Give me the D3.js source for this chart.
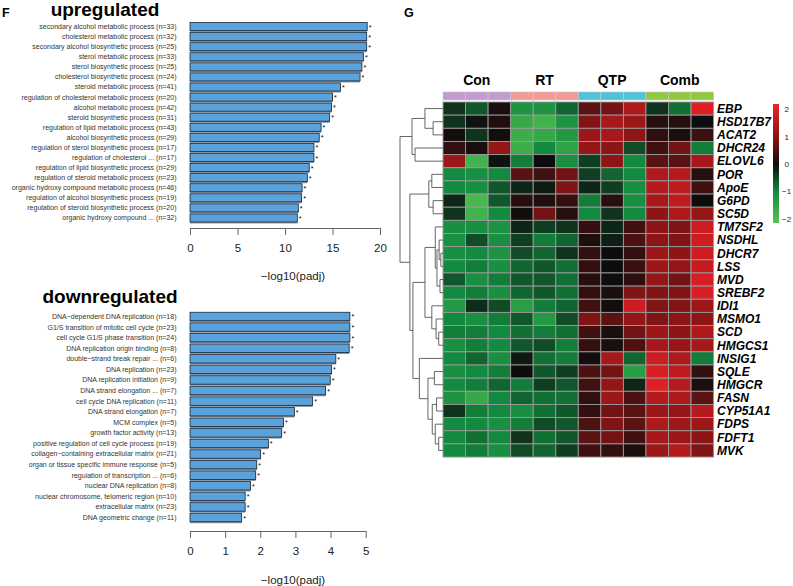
<!DOCTYPE html>
<html>
<head>
<meta charset="utf-8">
<script src="https://cdn.jsdelivr.net/npm/d3@7"></script>
<style>
  html, body { margin: 0; padding: 0; background: #fff; }
  svg { display: block; font-family: "Liberation Sans", Arial, Helvetica, sans-serif; }
</style>
</head>
<body>
<svg id="fig" width="793" height="586"></svg>
<script>
'use strict';

// GO enrichment, upregulated
const upTerms = [
  'secondary alcohol metabolic process (n=33)',
  'cholesterol metabolic process (n=32)',
  'secondary alcohol biosynthetic process (n=25)',
  'sterol metabolic process (n=33)',
  'sterol biosynthetic process (n=25)',
  'cholesterol biosynthetic process (n=24)',
  'steroid metabolic process (n=41)',
  'regulation of cholesterol metabolic process (n=20)',
  'alcohol metabolic process (n=42)',
  'steroid biosynthetic process (n=31)',
  'regulation of lipid metabolic process (n=43)',
  'alcohol biosynthetic process (n=29)',
  'regulation of sterol biosynthetic process (n=17)',
  'regulation of cholesterol ... (n=17)',
  'regulation of lipid biosynthetic process (n=29)',
  'regulation of steroid metabolic process (n=23)',
  'organic hydroxy compound metabolic process (n=46)',
  'regulation of alcohol biosynthetic process (n=19)',
  'regulation of steroid biosynthetic process (n=20)',
  'organic hydroxy compound ... (n=32)'
];
const upValues = [18.65, 18.6, 18.6, 18.25, 18.1, 17.9, 15.85, 15.0, 14.9, 14.7,
  13.8, 13.6, 13.05, 13.05, 12.55, 12.35, 11.8, 11.75, 11.4, 11.3];
const upTicks = [0, 5, 10, 15, 20];

// GO enrichment, downregulated
const downTerms = [
  'DNA\u2212dependent DNA replication (n=18)',
  'G1/S transition of mitotic cell cycle (n=23)',
  'cell cycle G1/S phase transition (n=24)',
  'DNA replication origin binding (n=8)',
  'double\u2212strand break repair ... (n=6)',
  'DNA replication (n=23)',
  'DNA replication initiation (n=9)',
  'DNA strand elongation ... (n=7)',
  'cell cycle DNA replication (n=11)',
  'DNA strand elongation (n=7)',
  'MCM complex (n=5)',
  'growth factor activity (n=13)',
  'positive regulation of cell cycle process (n=19)',
  'collagen\u2212containing extracellular matrix (n=21)',
  'organ or tissue specific immune response (n=5)',
  'regulation of transcription ... (n=6)',
  'nuclear DNA replication (n=8)',
  'nuclear chromosome, telomeric region (n=10)',
  'extracellular matrix (n=23)',
  'DNA geometric change (n=11)'
];
const downValues = [4.55, 4.55, 4.55, 4.53, 4.15, 4.03, 3.99, 3.86, 3.49, 2.97,
  2.66, 2.61, 2.23, 2.01, 1.9, 1.87, 1.72, 1.57, 1.57, 1.47];
const downTicks = [0, 1, 2, 3, 4, 5];

// heatmap
const groups = ['Con', 'RT', 'QTP', 'Comb'];
const groupColors = ['#c49bd1', '#f29a96', '#4fc3d7', '#91c83f'];
const samples = ['Con1', 'Con2', 'Con3', 'RT1', 'RT2', 'RT3', 'QTP1', 'QTP2', 'QTP3', 'Comb1', 'Comb2', 'Comb3'];
const genes = ['EBP', 'HSD17B7', 'ACAT2', 'DHCR24', 'ELOVL6', 'POR', 'ApoE', 'G6PD', 'SC5D',
  'TM7SF2', 'NSDHL', 'DHCR7', 'LSS', 'MVD', 'SREBF2', 'IDI1', 'MSMO1', 'SCD', 'HMGCS1',
  'INSIG1', 'SQLE', 'HMGCR', 'FASN', 'CYP51A1', 'FDPS', 'FDFT1', 'MVK'];
const heatValues = [
  [-0.3, -0.6, 0.1, -1.2, -1.2, -0.7, 0.6, 0.8, 1.4, -0.3, -0.8, 2.0],
  [-0.3, -0.05, 0.15, -1.6, -1.8, -1.2, 0.9, 1.3, 1.2, 0.2, 0.2, 0.0],
  [0.05, -0.3, 0.05, -1.7, -1.6, -1.3, 1.2, 1.3, 1.0, 0.25, 0.1, 0.35],
  [0.3, 0.1, 1.1, -1.7, -1.0, -1.5, 1.1, 1.0, -0.5, 0.4, 0.8, -0.9],
  [1.2, -1.8, -0.05, -0.9, 0.0, -1.1, -0.4, 1.0, -1.0, 0.6, 0.6, 1.3],
  [-1.0, -1.1, -1.0, 0.6, 0.4, 0.8, -0.4, -0.7, -1.0, 1.4, 1.5, 0.2],
  [-1.0, -1.1, -0.6, -0.2, -0.1, 0.9, -0.2, -0.4, -1.1, 1.5, 1.6, 0.4],
  [-0.2, -1.9, -0.6, 0.2, 0.15, 0.3, -0.9, 0.2, -1.1, 1.3, 1.6, 0.0],
  [-0.3, -1.8, -1.0, 0.05, 0.8, 0.2, -1.0, -0.3, -1.0, 1.0, 1.4, 1.1],
  [-1.1, -1.1, -1.2, -0.2, -0.4, -0.3, 0.3, -0.2, 0.4, 1.0, 0.9, 1.8],
  [-1.1, -0.5, -1.1, -0.4, -0.9, -0.7, 0.15, -0.15, 0.5, 1.0, 0.9, 1.8],
  [-1.1, -1.0, -1.2, -0.5, -0.7, -0.3, 0.3, 0.0, 0.3, 1.2, 1.0, 1.8],
  [-1.0, -0.9, -1.1, -0.7, -0.6, -0.8, 0.3, 0.0, 0.35, 1.2, 1.1, 1.7],
  [-0.6, -1.1, -0.9, -0.6, -0.6, -0.8, 0.2, 0.0, 0.25, 1.1, 0.8, 1.9],
  [-1.0, -0.9, -1.1, -0.7, -0.6, -0.8, 0.3, 0.1, 0.9, 0.9, 0.9, 1.9],
  [-1.3, -0.25, -0.5, -1.4, -0.9, -0.7, 0.4, 0.05, 1.8, 0.9, 0.9, 1.2],
  [-1.0, -1.1, -0.9, -0.6, -1.3, -0.5, 0.9, 0.6, 1.1, 0.9, 1.0, 1.0],
  [-0.9, -0.9, -1.0, -0.8, -0.9, -0.8, 0.4, 0.1, 0.8, 1.2, 1.0, 1.4],
  [-1.1, -0.9, -1.0, -0.6, -0.5, -0.9, 0.3, 0.1, 0.5, 1.3, 1.1, 1.3],
  [-1.0, -0.7, -1.1, -0.1, -0.8, -0.9, 0.05, 1.3, -0.7, 1.8, 1.4, -0.9],
  [-1.1, -1.0, -0.9, 0.0, -0.6, -0.4, 0.5, 0.8, -1.4, 1.9, 1.6, 0.3],
  [-1.0, -0.9, -0.7, -0.9, -0.4, -0.6, 0.4, 1.1, -0.2, 2.0, 1.5, 0.1],
  [-1.2, -1.6, -1.0, -0.7, -0.8, -0.8, 0.3, 1.2, 0.5, 1.5, 1.4, 0.6],
  [-0.3, -0.9, -1.0, -1.1, -0.8, -0.6, 0.3, 0.8, 0.6, 1.2, 1.1, 1.5],
  [-1.0, -1.0, -1.1, -0.9, -0.5, -0.6, 0.5, 0.9, 0.6, 1.4, 1.2, 1.2],
  [-1.0, -0.8, -1.0, -0.3, -0.8, -0.6, 0.6, 0.8, 0.4, 1.3, 1.2, 1.0],
  [-1.0, -0.9, -1.1, -0.5, -0.7, -0.4, 0.4, 0.3, 0.1, 1.2, 1.5, 0.9]
];
const legendTicks = [2, 1, 0, -1, -2];

// row dendrogram: [height, left, right], leaves are gene indices
const rowTree = [10,
  [7.2, [4.2, 0, [2.3, 1, 2]], [6.5, 3, 4]],
  [7.7,
    [3.3, [2.6, 5, 6], [2.3, 7, 8]],
    [7.0,
      [4.2,
        [1.8, 9, [1.4, [0.9, 10, [0.5, 11, 12]], [0.7, 13, 14]]],
        [2.6, 15, [1.6, 16, [1.0, 17, 18]]]],
      [5.5, 19, [3.5, [2.0, 20, 21], [2.5, [1.5, 22, 23], [1.8, 24, [1.0, 25, 26]]]]]]]];

const svg = d3.select('#fig');
svg.append('rect').attr('width', 793).attr('height', 586).attr('fill', '#fff');

// panel letters
svg.append('text').attr('x', 2).attr('y', 17).attr('font-size', 12.5).attr('font-weight', 'bold').text('F');
svg.append('text').attr('x', 404).attr('y', 17).attr('font-size', 12.5).attr('font-weight', 'bold').text('G');

// horizontal bar panel
function barPanel(cfg) {
  const x = d3.scaleLinear().domain([0, cfg.ticks[cfg.ticks.length - 1]]).range([190, cfg.xEnd]);
  const y = d3.scaleBand().domain(cfg.terms).range(cfg.yRange).paddingInner(0.2).paddingOuter(0.1);
  const g = svg.append('g');

  g.append('text')
    .attr('x', cfg.titleX).attr('y', cfg.titleY)
    .attr('text-anchor', 'middle')
    .attr('font-size', 19).attr('font-weight', 'bold')
    .text(cfg.title);

  g.selectAll('.lab').data(cfg.terms).enter().append('text')
    .attr('x', 176.5)
    .attr('y', d => y(d) + y.bandwidth() / 2)
    .attr('dy', '0.35em')
    .attr('text-anchor', 'end')
    .attr('font-size', 7)
    .attr('fill', '#333')
    .text(d => d);

  // grey shadow under each bar
  g.selectAll('.shadow').data(cfg.values).enter().append('rect')
    .attr('x', x(0))
    .attr('y', (d, i) => y(cfg.terms[i]) + 1.5)
    .attr('width', d => x(d) - x(0))
    .attr('height', y.bandwidth())
    .attr('fill', '#8a8f96');

  g.selectAll('.bar').data(cfg.values).enter().append('rect')
    .attr('x', x(0))
    .attr('y', (d, i) => y(cfg.terms[i]))
    .attr('width', d => x(d) - x(0))
    .attr('height', y.bandwidth())
    .attr('fill', '#5aa2dc')
    .attr('stroke', '#17283a')
    .attr('stroke-width', 0.8);

  g.selectAll('.star').data(cfg.values).enter().append('text')
    .attr('x', d => x(d) + 1.5)
    .attr('y', (d, i) => y(cfg.terms[i]) + y.bandwidth() / 2 + 3)
    .attr('font-size', 7)
    .text('*');

  const axis = g.append('g')
    .attr('transform', `translate(0,${cfg.axisY})`)
    .call(d3.axisBottom(x).tickValues(cfg.ticks).tickFormat(d3.format('d'))
      .tickSize(7).tickSizeOuter(0).tickPadding(9));
  axis.select('.domain').attr('stroke', '#666');
  axis.selectAll('.tick line').attr('stroke', '#666');
  axis.selectAll('.tick text').attr('font-size', 11.5).attr('fill', '#222')
    .attr('font-family', '"Liberation Sans", Arial, sans-serif');

  g.append('text')
    .attr('x', 293).attr('y', cfg.labelY)
    .attr('text-anchor', 'middle')
    .attr('font-size', 11.5).attr('fill', '#222')
    .text('\u2212log10(padj)');
}

barPanel({
  title: 'upregulated', titleX: 105, titleY: 16,
  terms: upTerms, values: upValues, ticks: upTicks,
  xEnd: 380, yRange: [21.5, 223], axisY: 228, labelY: 280
});
barPanel({
  title: 'downregulated', titleX: 110, titleY: 303,
  terms: downTerms, values: downValues, ticks: downTicks,
  xEnd: 365.7, yRange: [311.2, 522.8], axisY: 531, labelY: 584
});

// heatmap
const hx = d3.scaleBand().domain(samples).range([443, 713.6]);
const hy = d3.scaleBand().domain(genes).range([102, 102 + 27 * 13.15]);
const color = d3.scaleLinear()
  .domain([-2.2, -1, 0, 1, 2.2])
  .range(['#5ac652', '#128a3f', '#0d0d0d', '#8e1515', '#ee2129'])
  .clamp(true);

const cells = [];
heatValues.forEach((row, r) => row.forEach((v, c) => cells.push({ gene: genes[r], sample: samples[c], v: v })));

svg.append('g').selectAll('rect').data(cells).enter().append('rect')
  .attr('x', d => hx(d.sample))
  .attr('y', d => hy(d.gene))
  .attr('width', hx.bandwidth())
  .attr('height', hy.bandwidth())
  .attr('fill', d => color(d.v))
  .attr('stroke', '#9a9a9a')
  .attr('stroke-width', 0.9);

// column annotation bar
svg.append('g').selectAll('rect').data(samples).enter().append('rect')
  .attr('x', d => hx(d))
  .attr('y', 92)
  .attr('width', hx.bandwidth())
  .attr('height', 8)
  .attr('fill', (d, i) => groupColors[Math.floor(i / 3)])
  .attr('stroke', '#c8c8c8')
  .attr('stroke-width', 0.6);

svg.append('g').selectAll('text').data(groups).enter().append('text')
  .attr('x', (d, i) => hx(samples[i * 3]) + hx.bandwidth() * 1.5)
  .attr('y', 85)
  .attr('text-anchor', 'middle')
  .attr('font-size', 14).attr('font-weight', 'bold')
  .text(d => d);

// gene labels
svg.append('g').selectAll('text').data(genes).enter().append('text')
  .attr('x', 717)
  .attr('y', d => hy(d) + hy.bandwidth() / 2)
  .attr('dy', '0.36em')
  .attr('font-size', 12).attr('font-weight', 'bold').attr('font-style', 'italic')
  .text(d => d);

// dendrogram
const hScale = d3.scaleLinear().domain([0, 10]).range([443, 400]);
const dendro = svg.append('g').attr('fill', 'none').attr('stroke', '#555').attr('stroke-width', 0.9);
function drawNode(node) {
  if (typeof node === 'number') {
    return { x: hScale(0), y: hy(genes[node]) + hy.bandwidth() / 2 };
  }
  const a = drawNode(node[1]), b = drawNode(node[2]);
  const x = hScale(node[0]);
  dendro.append('path').attr('d', `M${a.x},${a.y}H${x}V${b.y}H${b.x}`);
  return { x: x, y: (a.y + b.y) / 2 };
}
drawNode(rowTree);

// colour key
const defs = svg.append('defs');
const grad = defs.append('linearGradient').attr('id', 'key').attr('x1', 0).attr('x2', 0).attr('y1', 1).attr('y2', 0);
const keyY = d3.scaleLinear().domain([-2.15, 2.2]).range([223, 104]);
d3.range(0, 1.0001, 0.05).forEach(t => {
  const v = -2.15 + t * 4.35;
  grad.append('stop').attr('offset', t).attr('stop-color', color(v));
});
svg.append('rect')
  .attr('x', 773).attr('y', keyY(2.2))
  .attr('width', 6).attr('height', keyY(-2.15) - keyY(2.2))
  .attr('fill', 'url(#key)');
svg.append('g').selectAll('text').data(legendTicks).enter().append('text')
  .attr('x', d => d < 0 ? 782 : 784.5)
  .attr('y', d => keyY(d))
  .attr('dy', '0.35em')
  .attr('font-size', 8)
  .attr('fill', '#222')
  .text(d => d < 0 ? '\u2212' + Math.abs(d) : d);
</script>
</body>
</html>
